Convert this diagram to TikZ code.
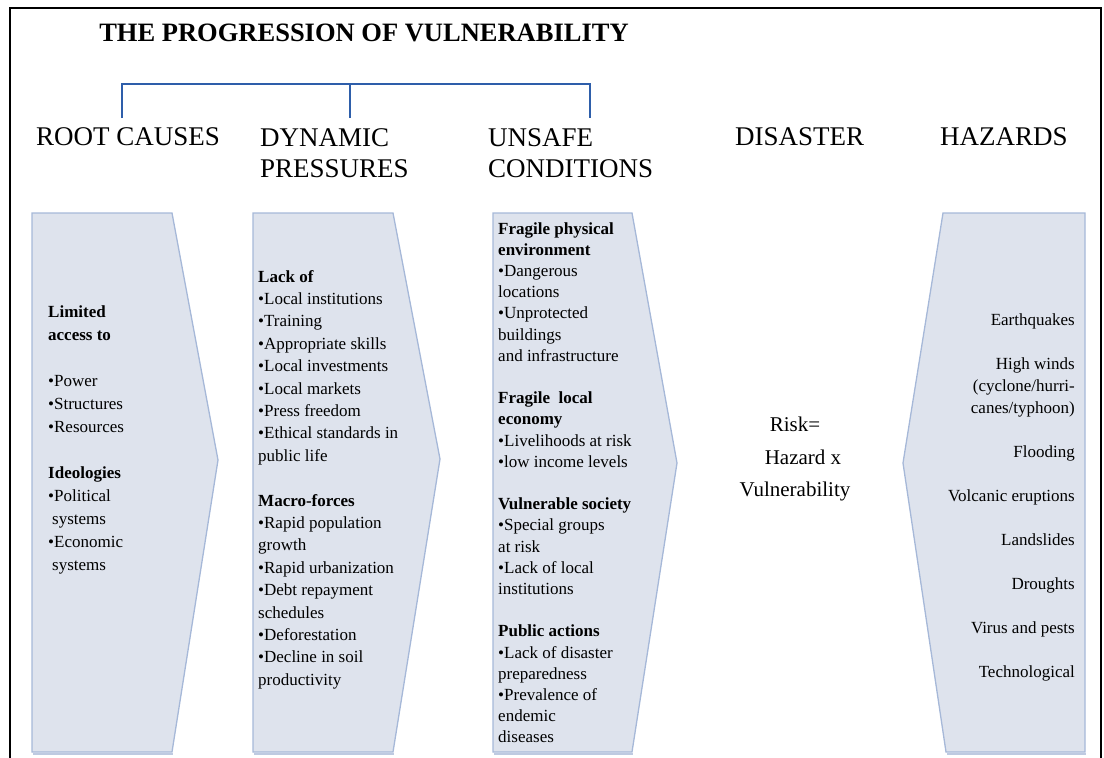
\documentclass[tikz,border=0pt]{standalone}
\usepackage{fontspec}
\setmainfont{Liberation Serif}
\definecolor{chevfill}{RGB}{222,227,237}
\definecolor{chevline}{RGB}{166,184,216}
\definecolor{chevshade}{RGB}{190,202,225}
\definecolor{bracketblue}{RGB}{46,94,170}
\begin{document}
\begin{tikzpicture}[x=1pt,y=-1pt,
  chevron/.style={draw=chevline,fill=chevfill,line width=1.3pt,line join=miter},
  shade/.style={draw=chevshade,line width=2pt},
  bracket/.style={draw=bracketblue,line width=2pt},
  head/.style={font=\fontsize{27}{31}\selectfont,inner sep=0pt,align=left},
  body/.style={inner sep=0pt,align=left,anchor=north west}]
\useasboundingbox (0,0) rectangle (1104,758);
\draw[line width=1.8pt] (10,790) -- (10,8) -- (1101,8) -- (1101,790);

\node[head,font=\fontsize{26.5}{31}\selectfont\bfseries] (title) at (364,33) {THE PROGRESSION OF VULNERABILITY};

\node[head,anchor=west] (rootH) at (36,137) {ROOT CAUSES};
\node[head,anchor=north west] (dynH) at (260,128) {DYNAMIC\\PRESSURES};
\node[head,anchor=north west] (unsH) at (488,128) {UNSAFE\\CONDITIONS};
\node[head,anchor=west] (disH) at (735,137) {DISASTER};
\node[head,anchor=west] (hazH) at (940,137) {HAZARDS};

\coordinate (br1) at (122,118);
\coordinate (br2) at (350,118);
\coordinate (br3) at (590,118);
\coordinate (brtop) at (350,84);
\draw[bracket] (br1) |- (brtop) -| (br3);
\draw[bracket] (br2) -- (brtop);

\draw[shade] (33,754) -- (173,754);
\draw[chevron] (32,213) -- (172,213) -- (218,460) -- (172,752) -- (32,752) -- cycle;
\draw[shade] (254,754) -- (394,754);
\draw[chevron] (253,213) -- (393,213) -- (440,459) -- (393,752) -- (253,752) -- cycle;
\draw[shade] (494,754) -- (633,754);
\draw[chevron] (493,213) -- (632,213) -- (677,463) -- (632,752) -- (493,752) -- cycle;
\draw[shade] (947,754) -- (1086,754);
\draw[chevron] (1085,213) -- (943,213) -- (903,463) -- (946,752) -- (1085,752) -- cycle;

\node[body,font=\fontsize{17}{23}\selectfont] (rootT) at (48,305)
  {\textbf{Limited}\\\textbf{access to}\\[23pt]
   •Power\\•Structures\\•Resources\\[23pt]
   \textbf{Ideologies}\\•Political\\\hspace{4pt}systems\\•Economic\\\hspace{4pt}systems};

\node[body,font=\fontsize{17}{22.4}\selectfont] (dynT) at (258,270)
  {\textbf{Lack of}\\•Local institutions\\•Training\\•Appropriate skills\\
   •Local investments\\•Local markets\\•Press freedom\\•Ethical standards in\\
   public life\\[22.4pt]
   \textbf{Macro-forces}\\•Rapid population\\growth\\•Rapid urbanization\\
   •Debt repayment\\schedules\\•Deforestation\\•Decline in soil\\productivity};

\node[body,font=\fontsize{17}{21.2}\selectfont] (unsT) at (498,222)
  {\textbf{Fragile physical}\\\textbf{environment}\\•Dangerous\\locations\\
   •Unprotected\\buildings\\and infrastructure\\[21.2pt]
   \textbf{Fragile\ \ local}\\\textbf{economy}\\•Livelihoods at risk\\•low income levels\\[21.2pt]
   \textbf{Vulnerable society}\\•Special groups\\at risk\\•Lack of local\\institutions\\[21.2pt]
   \textbf{Public actions}\\•Lack of disaster\\preparedness\\•Prevalence of\\endemic\\diseases};

\node[inner sep=0pt,align=center,anchor=north,font=\fontsize{21}{32.5}\selectfont] (risk) at (795,417)
  {Risk=\\\hspace{16pt}Hazard x\\Vulnerability};

\node[inner sep=0pt,align=right,anchor=north east,font=\fontsize{17}{22}\selectfont] (hazT) at (1075,313)
  {Earthquakes\\[22pt]High winds\\(cyclone/hurri-\\canes/typhoon)\\[22pt]
   Flooding\\[22pt]Volcanic eruptions\\[22pt]Landslides\\[22pt]Droughts\\[22pt]
   Virus and pests\\[22pt]Technological};
\end{tikzpicture}
\end{document}
